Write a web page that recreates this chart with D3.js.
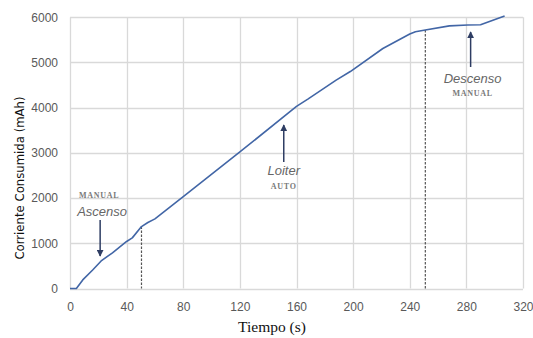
<!DOCTYPE html>
<html><head><meta charset="utf-8">
<script src="https://cdn.jsdelivr.net/npm/d3@7"></script>
<style>body{margin:0;background:#fff}svg{display:block}</style>
</head><body>
<script>
const time = [0, 4.5, 9, 16, 22, 30, 40, 44, 50.5, 55, 60, 80, 120, 160, 168, 188, 198, 221, 240, 244, 251, 268, 281, 290, 307];
const current = [0, 0, 190, 410, 610, 790, 1040, 1120, 1370, 1460, 1540, 2030, 3020, 4030, 4190, 4610, 4800, 5310, 5630, 5680, 5720, 5810, 5830, 5835, 6030];
const xTicks = [0, 40, 80, 120, 160, 200, 240, 280, 320];
const yTicks = [0, 1000, 2000, 3000, 4000, 5000, 6000];
const markers = [50.5, 251];
const notes = [
  {t: 22, label: "Ascenso", mode: "MANUAL", dir: "down"},
  {t: 151, label: "Loiter", mode: "AUTO", dir: "up"},
  {t: 283, label: "Descenso", mode: "MANUAL", dir: "up"}
];

const W = 533, H = 338;
const svg = d3.select("body").append("svg").attr("width", W).attr("height", H);
const x = d3.scaleLinear().domain([0, 320]).range([70, 523]);
const y = d3.scaleLinear().domain([0, 6000]).range([288.5, 17.3]);

const grid = "#d9d9d9";
svg.append("g").selectAll("line").data(yTicks).join("line")
  .attr("x1", x(0)).attr("x2", x(320)).attr("y1", d => Math.round(y(d)) + 0.5).attr("y2", d => Math.round(y(d)) + 0.5)
  .attr("stroke", grid).attr("stroke-width", 1.3);
svg.append("g").selectAll("line").data(xTicks).join("line")
  .attr("y1", y(0)).attr("y2", y(6000)).attr("x1", d => Math.round(x(d)) + 0.5).attr("x2", d => Math.round(x(d)) + 0.5)
  .attr("stroke", grid).attr("stroke-width", 1.3);

const xAxis = svg.append("g").attr("transform", `translate(0,${y(0)})`)
  .call(d3.axisBottom(x).tickValues(xTicks).tickSize(0).tickPadding(14));
const yAxis = svg.append("g").attr("transform", `translate(${x(0)},0)`)
  .call(d3.axisLeft(y).tickValues(yTicks).tickSize(0).tickPadding(12).tickFormat(d3.format("d")));
[xAxis, yAxis].forEach(a => {
  a.select(".domain").remove();
  a.selectAll("text").attr("fill", "#595959").attr("font-family", "Liberation Sans, Arial, sans-serif").attr("font-size", 12);
});

const interp = t => {
  const i = d3.bisectLeft(time, t);
  if (time[i] === t) return current[i];
  const t0 = time[i-1], t1 = time[i];
  return current[i-1] + (current[i] - current[i-1]) * (t - t0) / (t1 - t0);
};
svg.append("g").selectAll("line").data(markers).join("line")
  .attr("x1", d => x(d)).attr("x2", d => x(d))
  .attr("y1", d => y(interp(d))).attr("y2", y(0))
  .attr("stroke", "#555").attr("stroke-width", 1.2).attr("stroke-dasharray", "2.5,1.5");

const pts = time.map((t, i) => [t, current[i]]);
svg.append("path").datum(pts)
  .attr("fill", "none").attr("stroke", "#4266a6").attr("stroke-width", 1.6)
  .attr("stroke-linejoin", "round")
  .attr("d", d3.line().x(d => x(d[0])).y(d => y(d[1])));

svg.append("defs").append("marker").attr("id", "ah")
  .attr("viewBox", "0 0 10 10").attr("refX", 9).attr("refY", 5)
  .attr("markerWidth", 7).attr("markerHeight", 7).attr("markerUnits", "userSpaceOnUse")
  .attr("orient", "auto")
  .append("path").attr("d", "M0,0 L10,5 L0,10 z").attr("fill", "#2e3d63");

const ann = svg.append("g");
function arrow(x0, y0, y1) {
  ann.append("line").attr("x1", x0).attr("x2", x0).attr("y1", y0).attr("y2", y1)
    .attr("stroke", "#2e3d63").attr("stroke-width", 1.5)
    .attr("marker-end", "url(#ah)");
}
function label(cx, by, txt) {
  ann.append("text").attr("x", cx).attr("y", by).attr("text-anchor", "middle")
    .attr("font-family", "Liberation Sans, Arial, sans-serif").attr("font-style", "italic")
    .attr("font-size", 13).attr("fill", "#666").text(txt);
}
function mode(cx, by, txt) {
  ann.append("text").attr("x", cx).attr("y", by).attr("text-anchor", "middle")
    .attr("font-family", "Liberation Serif, Times New Roman, serif").attr("font-weight", "bold")
    .attr("font-size", 8).attr("letter-spacing", 0.7).attr("fill", "#7a7a7a").text(txt);
}
const a0 = notes[0];
mode(x(a0.t) - 2, 198, a0.mode);
label(x(a0.t) + 1, 216, a0.label);
arrow(x(a0.t) - 1, 220, 256);
const a1 = notes[1];
arrow(x(a1.t), 162, 125);
label(x(a1.t), 175, a1.label);
mode(x(a1.t), 189, a1.mode);
const a2 = notes[2];
arrow(x(a2.t), 67, 32);
label(x(a2.t) + 2, 83, a2.label);
mode(x(a2.t) + 2, 96, a2.mode);

svg.append("text").attr("x", 272).attr("y", 332).attr("text-anchor", "middle")
  .attr("font-family", "Liberation Serif, Times New Roman, serif").attr("font-size", 15.5)
  .attr("fill", "#111").text("Tiempo (s)");
svg.append("text").attr("transform", "translate(24,178) rotate(-90)").attr("text-anchor", "middle")
  .attr("font-family", "DejaVu Sans Condensed, DejaVu Sans, sans-serif").attr("font-size", 13)
  .attr("fill", "#111").text("Corriente Consumida (mAh)");
</script>
</body></html>
